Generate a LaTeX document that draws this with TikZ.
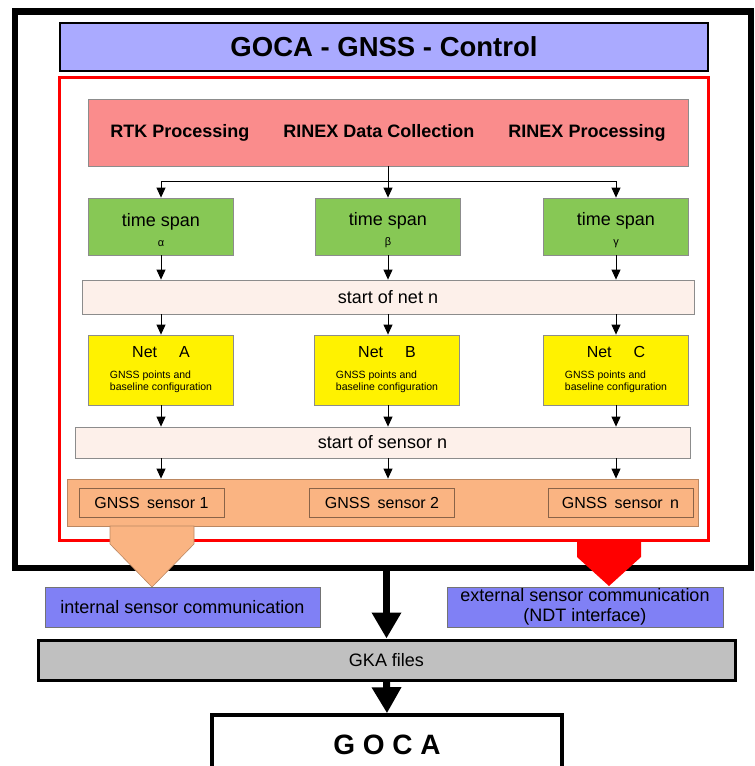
\documentclass[tikz,border=0pt]{standalone}
\usepackage{fontspec}
\setmainfont{Liberation Sans}
\usepackage{tikz}
\usetikzlibrary{positioning,arrows.meta}
\usepackage{xcolor}
\definecolor{titleblue}{RGB}{170,170,255}
\definecolor{procred}{RGB}{250,140,140}
\definecolor{spangreen}{RGB}{135,200,85}
\definecolor{startpink}{RGB}{253,240,234}
\definecolor{sensorange}{RGB}{250,180,130}
\definecolor{commblue}{RGB}{128,128,245}
\definecolor{gkagray}{RGB}{192,192,192}
\newcommand{\fsz}[1]{\fontsize{#1}{#1}\selectfont}
\newcommand{\netinfo}{{\fontsize{10.5}{12}\selectfont\begin{tabular}{@{}l@{}}GNSS points and\\baseline configuration\end{tabular}}}

\begin{document}
\begin{tikzpicture}[x=1pt,y=-1pt,
  box/.style={draw=black!45,inner sep=0pt,line width=0.8pt,align=center},
  arr/.style={-{Triangle[width=9pt,length=10pt]},line width=0.8pt},
  bigarr/.style={-{Triangle[width=28pt,length=26pt]},line width=7pt}]
\useasboundingbox (0,0) rectangle (755,766);
\clip (0,0) rectangle (755,766);
\node[draw,line width=6.5pt,inner sep=0pt,minimum width=736pt,minimum height=556.5pt] (outer) at (383,289.75) {};
\node[draw,fill=titleblue,line width=2pt,inner sep=0pt,minimum width=648pt,minimum height=48pt,font=\bfseries\fsz{27.5}] (title) at (384,47) {GOCA - GNSS - Control};
\node[draw=red,line width=3pt,inner sep=0pt,minimum width=649pt,minimum height=463pt] (redframe) at (383.5,308.5) {};
\node[box,fill=procred,minimum width=600pt,minimum height=67pt,font=\bfseries\fsz{18}] (proc) at (388,132.5)
  {RTK Processing\hspace{34pt}RINEX Data Collection\hspace{34pt}RINEX Processing};
\coordinate (split) at (388,181);
\node[box,fill=spangreen,minimum width=145pt,minimum height=57pt,font=\fontsize{18}{20}\selectfont] (ts1) at (161,226.5) {\rule{0pt}{21pt}time span\\{\fsz{11}α}};
\node[box,fill=spangreen,minimum width=145pt,minimum height=57pt,font=\fontsize{18}{20}\selectfont] (ts2) at (388,226.5) {\rule{0pt}{21pt}time span\\{\fsz{11}β}};
\node[box,fill=spangreen,minimum width=145pt,minimum height=57pt,font=\fontsize{18}{20}\selectfont] (ts3) at (616,226.5) {\rule{0pt}{21pt}time span\\{\fsz{11}γ}};
\node[box,fill=startpink,minimum width=612pt,minimum height=34pt,font=\fsz{18}] (netstart) at (388,297) {start of net n};
\node[box,fill=yellow,minimum width=145pt,minimum height=70pt,font=\fontsize{16}{18}\selectfont] (net1) at (161,370) {Net\hspace{22pt}A\\[9pt]\netinfo};
\node[box,fill=yellow,minimum width=145pt,minimum height=70pt,font=\fontsize{16}{18}\selectfont] (net2) at (387,370) {Net\hspace{22pt}B\\[9pt]\netinfo};
\node[box,fill=yellow,minimum width=145pt,minimum height=70pt,font=\fontsize{16}{18}\selectfont] (net3) at (616,370) {Net\hspace{22pt}C\\[9pt]\netinfo};
\node[box,fill=startpink,minimum width=615pt,minimum height=31pt,font=\fsz{18}] (sensstart) at (382.5,442.5) {start of sensor n};
\node[box,fill=sensorange,draw=sensorange!75!black,minimum width=631pt,minimum height=47pt] (sensbar) at (382.5,502.5) {};
\node[box,fill=sensorange,draw=sensorange!55!black,minimum width=145pt,minimum height=29pt,font=\fsz{16}] (sens1) at (151.5,502.5) {GNSS\hspace{3pt} sensor 1};
\node[box,fill=sensorange,draw=sensorange!55!black,minimum width=145pt,minimum height=29pt,font=\fsz{16}] (sens2) at (382,502.5) {GNSS\hspace{3pt} sensor 2};
\node[box,fill=sensorange,draw=sensorange!55!black,minimum width=145pt,minimum height=29pt,font=\fsz{16}] (sens3) at (620.5,502.5) {GNSS\hspace{3pt} sensor\hspace{3pt} n};
\fill[sensorange,draw=sensorange!75!black,line width=0.6pt] (110,526) -- (194,526) -- (194,544) -- (152,587) -- (110,544) -- cycle;
\fill[red] (577,541) -- (641,541) -- (641,557) -- (609,586) -- (577,557) -- cycle;
\node[box,fill=commblue,draw=black!55,minimum width=275pt,minimum height=40pt,font=\fsz{18}] (intern) at (182.5,607) {internal sensor communication};
\node[box,fill=commblue,draw=black!55,minimum width=276pt,minimum height=40pt,font=\fontsize{18}{20}\selectfont] (extern) at (585,607) {external sensor communication\\(NDT interface)};
\node[draw,fill=gkagray,line width=3pt,inner sep=0pt,minimum width=697pt,minimum height=40pt,font=\fsz{18}] (gka) at (386.5,660) {GKA files};
\node[draw,line width=3.5pt,inner sep=0pt,minimum width=350pt,minimum height=60pt,font=\bfseries\fsz{28}] (goca) at (387,745) {G O C A};
\draw[line width=0.8pt] (proc.south) -- (split);
\draw[line width=0.8pt] (split -| ts1) -- (split -| ts3);
\draw[arr] (split -| ts1) -- (ts1.north);
\draw[arr] (split) -- (ts2.north);
\draw[arr] (split -| ts3) -- (ts3.north);
\draw[arr] (ts1.south) -- (ts1.south |- netstart.north);
\draw[arr] (ts2.south) -- (ts2.south |- netstart.north);
\draw[arr] (ts3.south) -- (ts3.south |- netstart.north);
\draw[arr] (netstart.south -| ts1) -- (net1.north -| ts1);
\draw[arr] (netstart.south -| ts2) -- (net2.north -| ts2);
\draw[arr] (netstart.south -| ts3) -- (net3.north -| ts3);
\draw[arr] (net1.south -| ts1) -- (sensstart.north -| ts1);
\draw[arr] (net2.south -| ts2) -- (sensstart.north -| ts2);
\draw[arr] (net3.south -| ts3) -- (sensstart.north -| ts3);
\draw[arr] (sensstart.south -| ts1) -- (sensbar.north -| ts1);
\draw[arr] (sensstart.south -| ts2) -- (sensbar.north -| ts2);
\draw[arr] (sensstart.south -| ts3) -- (sensbar.north -| ts3);
\draw[bigarr] (outer.south -| gka) -- (gka.north);
\draw[bigarr] (gka.south) -- (goca.north);
\end{tikzpicture}
\end{document}
